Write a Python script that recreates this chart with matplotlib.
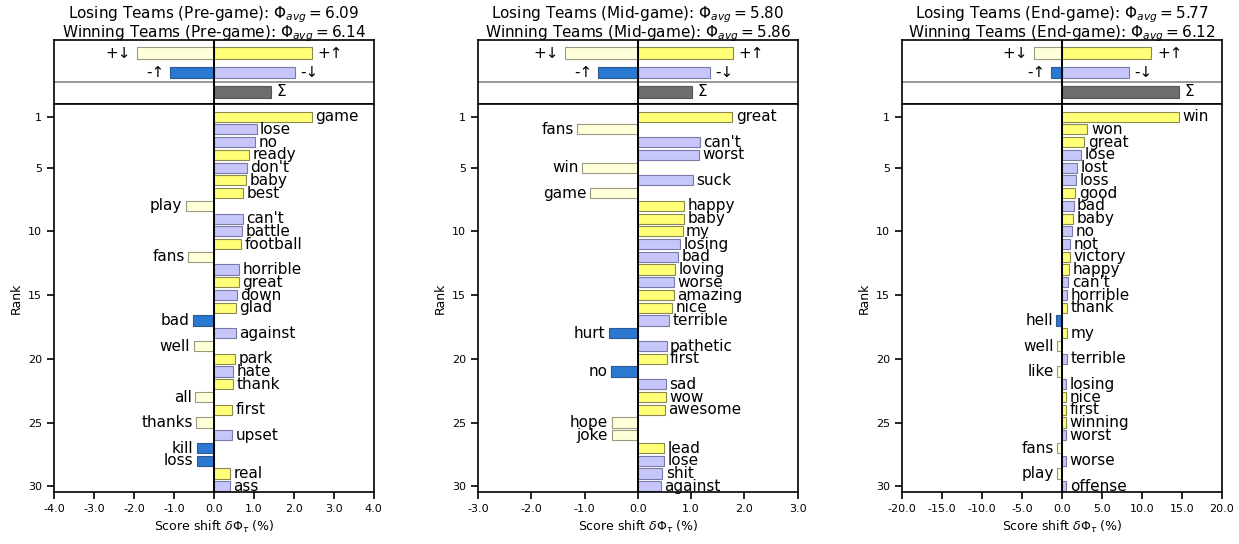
import matplotlib
matplotlib.use('Agg')
import matplotlib.pyplot as plt
import numpy as np

# colours for the four kinds of contribution
c_pos_up = '#ffff78'      # +↑ more positive words
c_pos_down = '#ffffd8'    # +↓ fewer positive words
c_neg_down = '#c6c6fa'    # -↓ fewer negative words
c_neg_up = '#2b78d0'      # -↑ more negative words
c_sum = '#6e6e6e'

stages = ['Pre-game', 'Mid-game', 'End-game']
phi_losing = [6.09, 5.80, 5.77]
phi_winning = [6.14, 5.86, 6.12]
xlims = [4.0, 3.0, 20.0]
xticks = [np.arange(-4, 4.1, 1.0), np.arange(-3, 3.1, 1.0), np.arange(-20, 20.1, 5.0)]

# summary rows: +↑, +↓, -↓, -↑, total
sum_pos_up = [2.45, 1.78, 11.2]
sum_pos_down = [-1.93, -1.37, -3.5]
sum_neg_down = [2.02, 1.35, 8.4]
sum_neg_up = [-1.10, -0.74, -1.4]
sum_total = [1.42, 1.02, 14.7]

# top 30 words per stage; kind: 'pu' +↑, 'pd' +↓, 'nd' -↓, 'nu' -↑
words_pre = ['game', 'lose', 'no', 'ready', "don't", 'baby', 'best', 'play', "can't", 'battle',
             'football', 'fans', 'horrible', 'great', 'down', 'glad', 'bad', 'against', 'well', 'park',
             'hate', 'thank', 'all', 'first', 'thanks', 'upset', 'kill', 'loss', 'real', 'ass']
shift_pre = [2.45, 1.07, 1.03, 0.87, 0.83, 0.80, 0.73, -0.70, 0.73, 0.70,
             0.68, -0.64, 0.63, 0.63, 0.58, 0.55, -0.52, 0.55, -0.50, 0.52,
             0.48, 0.48, -0.47, 0.45, -0.44, 0.45, -0.42, -0.42, 0.40, 0.40]
kind_pre = ['pu', 'nd', 'nd', 'pu', 'nd', 'pu', 'pu', 'pd', 'nd', 'nd',
            'pu', 'pd', 'nd', 'pu', 'nd', 'pu', 'nu', 'nd', 'pd', 'pu',
            'nd', 'pu', 'pd', 'pu', 'pd', 'nd', 'nu', 'nu', 'pu', 'nd']

words_mid = ['great', 'fans', "can't", 'worst', 'win', 'suck', 'game', 'happy', 'baby', 'my',
             'losing', 'bad', 'loving', 'worse', 'amazing', 'nice', 'terrible', 'hurt', 'pathetic', 'first',
             'no', 'sad', 'wow', 'awesome', 'hope', 'joke', 'lead', 'lose', 'shit', 'against']
shift_mid = [1.77, -1.14, 1.16, 1.14, -1.04, 1.03, -0.90, 0.86, 0.86, 0.84,
             0.79, 0.76, 0.70, 0.68, 0.68, 0.64, 0.58, -0.55, 0.54, 0.54,
             -0.50, 0.52, 0.52, 0.51, -0.49, -0.49, 0.49, 0.49, 0.46, 0.43]
kind_mid = ['pu', 'pd', 'nd', 'nd', 'pd', 'nd', 'pd', 'pu', 'pu', 'pu',
            'nd', 'nd', 'pu', 'nd', 'pu', 'pu', 'nd', 'nu', 'nd', 'pu',
            'nu', 'nd', 'pu', 'pu', 'pd', 'pd', 'pu', 'nd', 'nd', 'nd']

words_end = ['win', 'won', 'great', 'lose', 'lost', 'loss', 'good', 'bad', 'baby', 'no',
             'not', 'victory', 'happy', "can't", 'horrible', 'thank', 'hell', 'my', 'well', 'terrible',
             'like', 'losing', 'nice', 'first', 'winning', 'worst', 'fans', 'worse', 'play', 'offense']
shift_end = [14.7, 3.2, 2.8, 2.44, 1.88, 1.80, 1.68, 1.47, 1.43, 1.26,
             1.05, 0.97, 0.88, 0.80, 0.71, 0.71, -0.67, 0.63, -0.58, 0.63,
             -0.58, 0.55, 0.55, 0.55, 0.55, 0.55, -0.55, 0.55, -0.55, 0.55]
kind_end = ['pu', 'pu', 'pu', 'nd', 'nd', 'nd', 'pu', 'nd', 'pu', 'nd',
            'nd', 'pu', 'pu', 'nd', 'nd', 'pu', 'nu', 'pu', 'pd', 'nd',
            'pd', 'nd', 'pu', 'pu', 'pu', 'nd', 'pd', 'nd', 'pd', 'nd']

all_words = [words_pre, words_mid, words_end]
all_shifts = [shift_pre, shift_mid, shift_end]
all_kinds = [kind_pre, kind_mid, kind_end]

kind_colors = {'pu': c_pos_up, 'pd': c_pos_down, 'nd': c_neg_down, 'nu': c_neg_up}
kind_edges = {'pu': '#8a8a50', 'pd': '#9a9a80', 'nd': '#7a7aa8', 'nu': '#2b5a90'}

fig = plt.figure(figsize=(12.39, 5.44), dpi=100)

lefts = [0.0436, 0.3858, 0.728]
width = 0.258
main_bottom, main_height = 0.0956, 0.7134
sum_bottom, sum_height = 0.809, 0.117

for i in range(3):
    lim = xlims[i]
    off = lim * 0.035

    # summary panel on top
    ax0 = fig.add_axes([lefts[i], sum_bottom, width, sum_height])
    rows = [
        (sum_pos_up[i], 0, c_pos_up, '#8a8a50', u'+\u2191'),
        (sum_pos_down[i], 0, c_pos_down, '#9a9a80', u'+\u2193'),
        (sum_neg_down[i], 1, c_neg_down, '#7a7aa8', u'-\u2193'),
        (sum_neg_up[i], 1, c_neg_up, '#2b5a90', u'-\u2191'),
        (sum_total[i], 2, c_sum, '#555555', u'\u03a3'),
    ]
    for val, y, col, ec, lab in rows:
        ax0.barh(y, val, height=0.6, color=col, edgecolor=ec, linewidth=0.8)
        if val >= 0:
            ax0.text(val + off, y, lab, ha='left', va='center', fontsize=11)
        else:
            ax0.text(val - off, y, lab, ha='right', va='center', fontsize=11)
    ax0.axhline(1.49, color='#888888', linewidth=1.2)
    ax0.axvline(0, color='black', linewidth=1.4)
    ax0.set_xlim(-lim, lim)
    ax0.set_ylim(2.615, -0.667)
    ax0.set_xticks([])
    ax0.set_yticks([])
    # two-line heading above the summary panel
    ax0.text(0.5, 1.344, 'Losing Teams (%s): $\\Phi_{avg} = %.2f$' % (stages[i], phi_losing[i]),
             transform=ax0.transAxes, ha='center', va='baseline', fontsize=11)
    ax0.text(0.5, 1.05, 'Winning Teams (%s): $\\Phi_{avg} = %.2f$' % (stages[i], phi_winning[i]),
             transform=ax0.transAxes, ha='center', va='baseline', fontsize=11)

    # ranked word contributions
    ax = fig.add_axes([lefts[i], main_bottom, width, main_height])
    ranks = np.arange(1, 31)
    for r, w, v, k in zip(ranks, all_words[i], all_shifts[i], all_kinds[i]):
        ax.barh(r, v, height=0.8, color=kind_colors[k], edgecolor=kind_edges[k], linewidth=0.8)
        if v >= 0:
            ax.text(v + lim * 0.022, r, w, ha='left', va='center', fontsize=11)
        else:
            ax.text(v - lim * 0.022, r, w, ha='right', va='center', fontsize=11)
    ax.axvline(0, color='black', linewidth=1.4)
    ax.set_xlim(-lim, lim)
    ax.set_ylim(30.45, 0)
    ax.set_yticks([1, 5, 10, 15, 20, 25, 30])
    ax.set_xticks(xticks[i])
    ax.set_xticklabels(['%.1f' % t for t in xticks[i]])
    ax.tick_params(labelsize=8, direction='out', length=5, width=1.2)
    ax.set_ylabel('Rank', fontsize=9)
    ax.set_xlabel('Score shift $\\delta\\Phi_\\tau$ (%)', fontsize=9)
    for sp in ax.spines.values():
        sp.set_linewidth(1.2)
    for sp in ax0.spines.values():
        sp.set_linewidth(1.2)

fig.savefig('out.png', dpi=100)
